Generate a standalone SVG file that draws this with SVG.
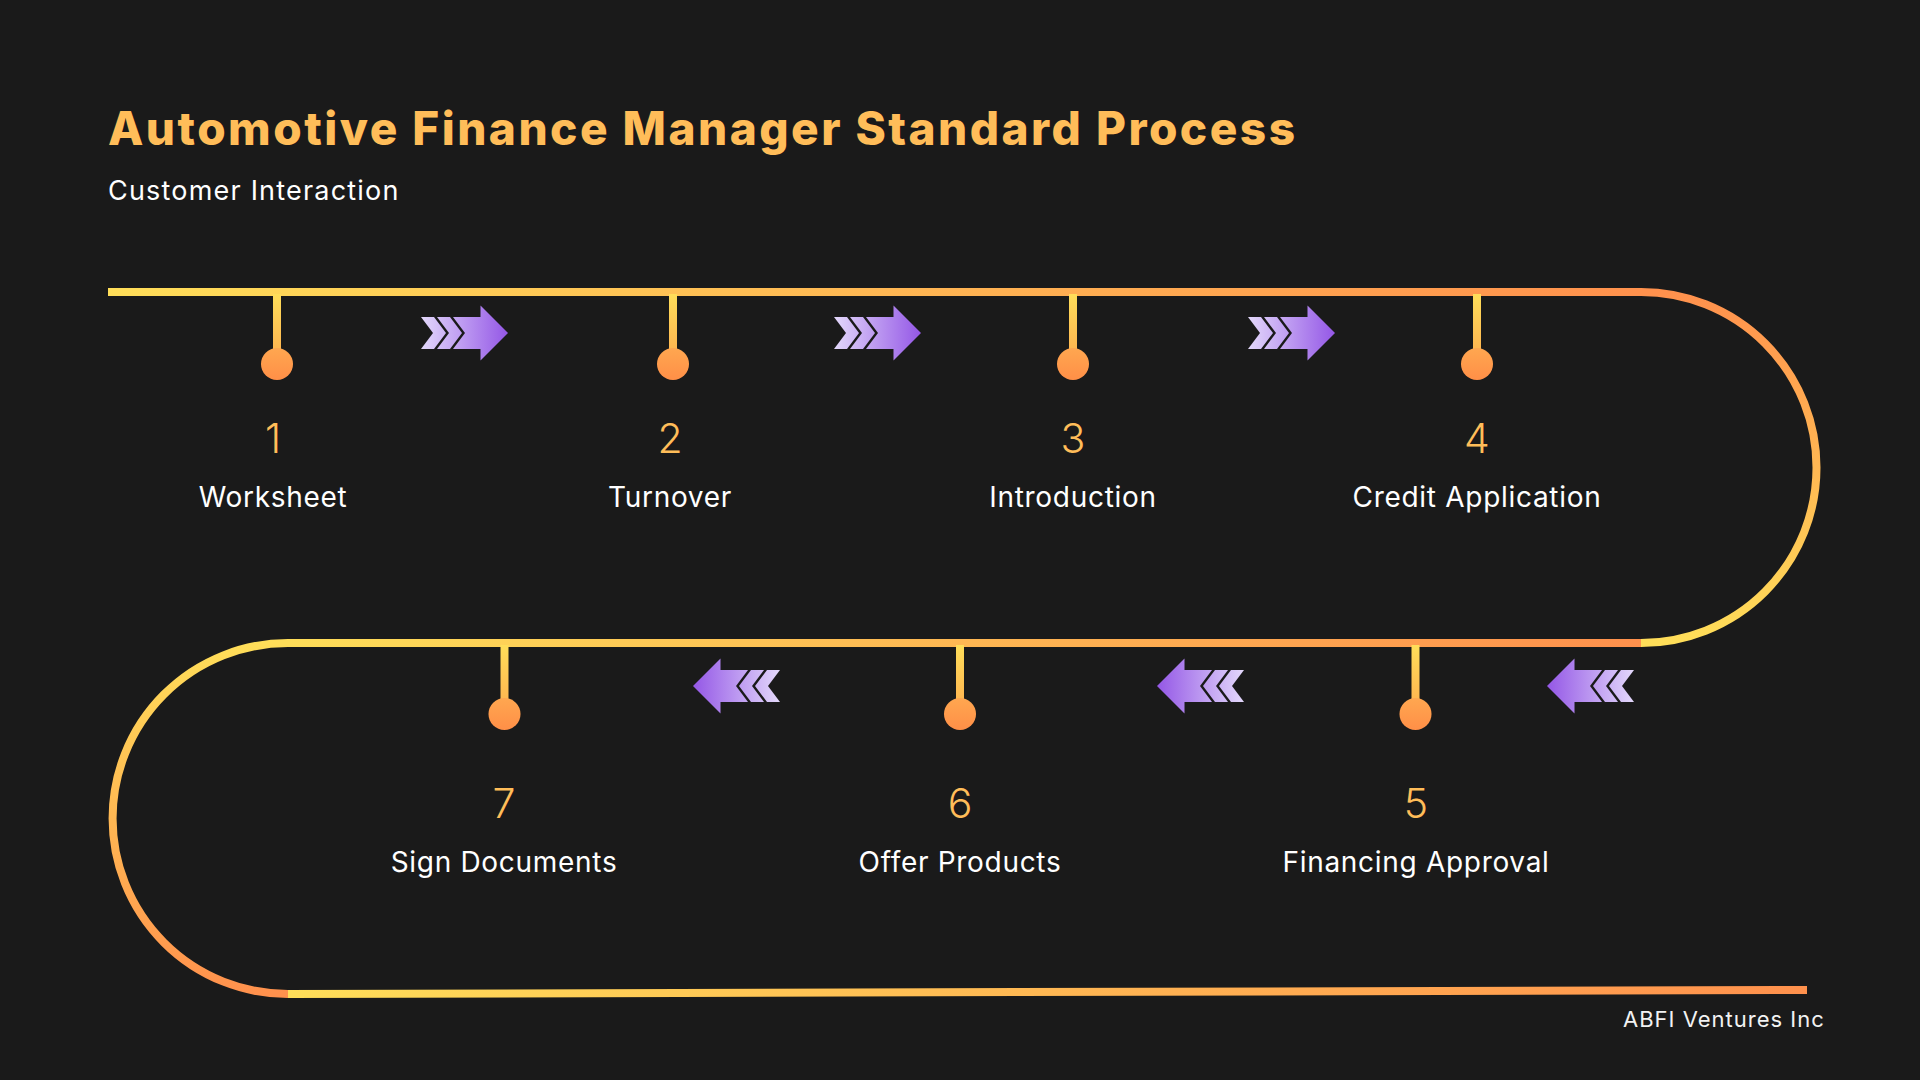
<svg xmlns="http://www.w3.org/2000/svg" width="1920" height="1080" viewBox="0 0 1920 1080">
<style>
.title{font-family:Inter,"Liberation Sans",sans-serif;font-weight:800;font-size:46px;fill:#FFBD59}
.sub{font-family:Inter,"Liberation Sans",sans-serif;font-size:27px;fill:#FFFFFF;letter-spacing:1.2px}
.num{font-family:Inter,"Liberation Sans",sans-serif;font-weight:300;font-size:41px;fill:#FFBD59;text-anchor:middle}
.lbl{font-family:Inter,"Liberation Sans",sans-serif;font-size:28px;fill:#FFFFFF;text-anchor:middle;letter-spacing:0.7px}
.foot{font-family:Inter,"Liberation Sans",sans-serif;font-size:22px;fill:#F2F2F2;letter-spacing:1px}
.track{fill:none;stroke-width:8}
.stem{fill:url(#gStem)}
.dot{fill:url(#gDot)}
</style>
<defs>
<linearGradient id="gTop" gradientUnits="userSpaceOnUse" x1="108" y1="0" x2="1641" y2="0"><stop offset="0" stop-color="#FFDE59"/><stop offset="1" stop-color="#FF914D"/></linearGradient>
<linearGradient id="gArcR" gradientUnits="userSpaceOnUse" x1="0" y1="292" x2="0" y2="643"><stop offset="0" stop-color="#FF914D"/><stop offset="1" stop-color="#FFDE59"/></linearGradient>
<linearGradient id="gMid" gradientUnits="userSpaceOnUse" x1="288" y1="0" x2="1641" y2="0"><stop offset="0" stop-color="#FFDE59"/><stop offset="1" stop-color="#FF914D"/></linearGradient>
<linearGradient id="gArcL" gradientUnits="userSpaceOnUse" x1="0" y1="643" x2="0" y2="994"><stop offset="0" stop-color="#FFDE59"/><stop offset="1" stop-color="#FF914D"/></linearGradient>
<linearGradient id="gBot" gradientUnits="userSpaceOnUse" x1="288" y1="0" x2="1807" y2="0"><stop offset="0" stop-color="#FFDE59"/><stop offset="1" stop-color="#FF914D"/></linearGradient>
<linearGradient id="gStem" x1="0" y1="0" x2="0" y2="1"><stop offset="0" stop-color="#FFDE59"/><stop offset="1" stop-color="#FFB04F"/></linearGradient>
<linearGradient id="gDot" x1="0" y1="0" x2="0" y2="1"><stop offset="0" stop-color="#FFA750"/><stop offset="1" stop-color="#FF8F47"/></linearGradient>
<linearGradient id="gArrow" gradientUnits="userSpaceOnUse" x1="-87" y1="0" x2="0" y2="0"><stop offset="0" stop-color="#E3D8FB"/><stop offset="1" stop-color="#9457E6"/></linearGradient>
<g id="arrow" fill="url(#gArrow)">
<path d="M0,0 L-27.5,-27.5 L-27.5,-16 L-55,-16 L-43,0 L-55,16 L-27.5,16 L-27.5,27.5 Z"/>
<path d="M-71,-16 L-58,-16 L-46,0 L-58,16 L-71,16 L-59,0 Z"/>
<path d="M-87,-16 L-74,-16 L-62,0 L-74,16 L-87,16 L-75,0 Z"/>
</g>
</defs>
<rect width="1920" height="1080" fill="#1A1A1A"/>
<text class="title" x="108" y="145" textLength="1187">Automotive Finance Manager Standard Process</text>
<text class="sub" x="108" y="200">Customer Interaction</text>
<g id="connectors">
<path class="track" stroke="url(#gTop)" d="M108,292 L1641,292"/>
<path class="track" stroke="url(#gArcR)" d="M1641,292 A175.5,175.5 0 0 1 1641,643"/>
<path class="track" stroke="url(#gMid)" d="M288,643 L1641,643"/>
<path class="track" stroke="url(#gArcL)" d="M288,643 A175.5,175.5 0 0 0 288,994"/>
<path class="track" stroke="url(#gBot)" d="M288,994 L1807,990"/>
<use href="#arrow" transform="translate(508,333)"/>
<use href="#arrow" transform="translate(921,333)"/>
<use href="#arrow" transform="translate(1335,333)"/>
<use href="#arrow" transform="translate(1547,686) scale(-1,1)"/>
<use href="#arrow" transform="translate(1157,686) scale(-1,1)"/>
<use href="#arrow" transform="translate(693,686) scale(-1,1)"/>
</g>
<g id="step1"><rect class="stem" x="273" y="294" width="8" height="66"/><circle class="dot" cx="277" cy="364" r="16"/><text class="num" x="273" y="453">1</text><text class="lbl" x="273" y="507">Worksheet</text></g>
<g id="step2"><rect class="stem" x="669" y="294" width="8" height="66"/><circle class="dot" cx="673" cy="364" r="16"/><text class="num" x="670" y="453">2</text><text class="lbl" x="670" y="507">Turnover</text></g>
<g id="step3"><rect class="stem" x="1069" y="294" width="8" height="66"/><circle class="dot" cx="1073" cy="364" r="16"/><text class="num" x="1073" y="453">3</text><text class="lbl" x="1073" y="507">Introduction</text></g>
<g id="step4"><rect class="stem" x="1473" y="294" width="8" height="66"/><circle class="dot" cx="1477" cy="364" r="16"/><text class="num" x="1477" y="453">4</text><text class="lbl" x="1477" y="507">Credit Application</text></g>
<g id="step5"><rect class="stem" x="1411.5" y="645" width="8" height="65"/><circle class="dot" cx="1415.5" cy="714" r="16"/><text class="num" x="1416" y="818">5</text><text class="lbl" x="1416" y="872">Financing Approval</text></g>
<g id="step6"><rect class="stem" x="956" y="645" width="8" height="65"/><circle class="dot" cx="960" cy="714" r="16"/><text class="num" x="960" y="818">6</text><text class="lbl" x="960" y="872">Offer Products</text></g>
<g id="step7"><rect class="stem" x="500.5" y="645" width="8" height="65"/><circle class="dot" cx="504.5" cy="714" r="16"/><text class="num" x="504" y="818">7</text><text class="lbl" x="504" y="872">Sign Documents</text></g>
<text class="foot" x="1623" y="1027">ABFI Ventures Inc</text>
</svg>
